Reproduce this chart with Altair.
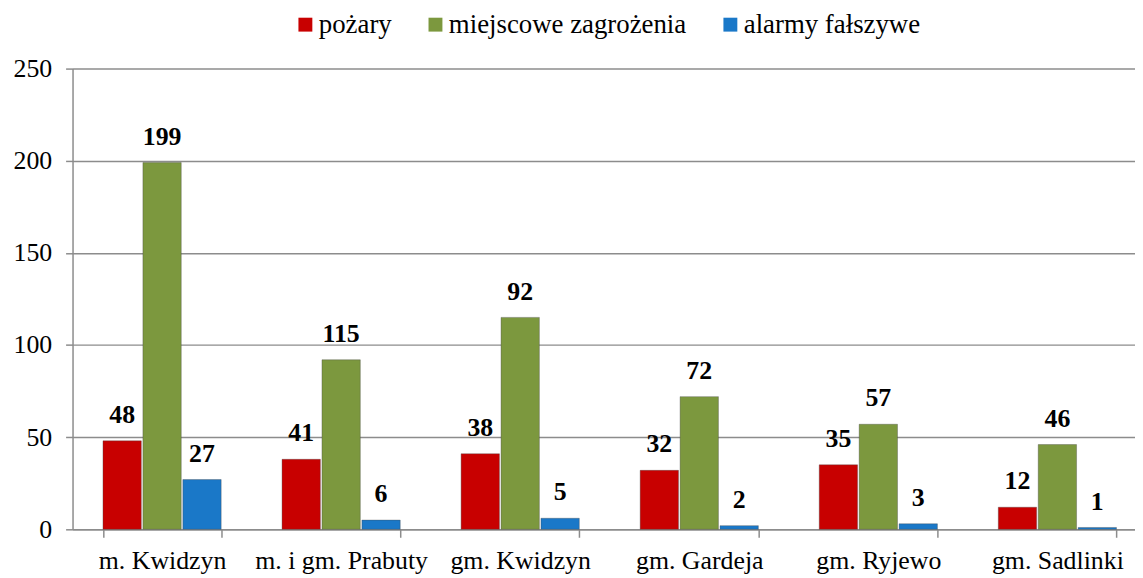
import altair as alt
import pandas as pd

categories = ["m. Kwidzyn", "m. i gm. Prabuty", "gm. Kwidzyn", "gm. Gardeja", "gm. Ryjewo", "gm. Sadlinki"]
series = ["pożary", "miejscowe zagrożenia", "alarmy fałszywe"]

# bar heights as drawn
pozary = [48, 38, 41, 32, 35, 12]
miejscowe = [199, 92, 115, 72, 57, 46]
alarmy = [27, 5, 6, 2, 3, 1]

# value labels as printed
pozary_lbl = [48, 41, 38, 32, 35, 12]
miejscowe_lbl = [199, 115, 92, 72, 57, 46]
alarmy_lbl = [27, 6, 5, 2, 3, 1]

colors = ["#C80000", "#7C983E", "#1A78C8"]

rows = []
for s, vals, lbls in zip(series, [pozary, miejscowe, alarmy], [pozary_lbl, miejscowe_lbl, alarmy_lbl]):
    for c, v, l in zip(categories, vals, lbls):
        rows.append({"cat": c, "series": s, "value": v, "label": str(l)})
df = pd.DataFrame(rows)

FONT = "'Liberation Serif', 'Times New Roman', serif"

x = alt.X(
    "cat:N",
    sort=categories,
    scale=alt.Scale(domain=categories, range=[0, 1082], paddingInner=0.34, paddingOuter=0.17),
    axis=alt.Axis(
        title=None, tickBand="extent", ticks=True, tickSize=8, tickColor="#8C8C8C",
        domainColor="#8C8C8C", domainWidth=1.5, tickWidth=1.5, labelFont=FONT, labelFontSize=26,
        labelColor="black", labelPadding=10, labelAngle=0, grid=False, labelLimit=400,
    ),
)
xo = alt.XOffset("series:N", sort=series, scale=alt.Scale(domain=series, paddingInner=0.04, paddingOuter=0))

y = alt.Y(
    "value:Q",
    scale=alt.Scale(domain=[0, 250], nice=False),
    axis=alt.Axis(
        title=None, values=[0, 50, 100, 150, 200, 250], grid=True, gridColor="#8C8C8C", gridWidth=1.5,
        domainColor="#8C8C8C", domainWidth=1.5, tickColor="#8C8C8C", tickWidth=1.5, tickSize=7,
        labelFont=FONT, labelFontSize=26, labelColor="black", labelPadding=14,
    ),
)

color = alt.Color(
    "series:N",
    sort=series,
    scale=alt.Scale(domain=series, range=colors),
    legend=alt.Legend(
        orient="none", legendX=221, legendY=-58, direction="horizontal", title=None,
        labelFont=FONT, labelFontSize=27, labelColor="black", symbolType="square",
        symbolSize=196, columnPadding=30, labelOffset=0, symbolStrokeWidth=0, labelLimit=500,
    ),
)

bars = alt.Chart(df).mark_bar(stroke="#444444", strokeWidth=0.6, strokeOpacity=0.6).encode(
    x=x, xOffset=xo, y=y, color=color
)

labels = alt.Chart(df).mark_text(
    dy=-26, baseline="middle", align="center", fontWeight="bold", fontSize=26, font=FONT, color="black"
).encode(x=x, xOffset=xo, y=y, text="label:N")

chart = (
    alt.layer(bars, labels)
    .properties(
        width=1070,
        height=464,
        autosize=alt.AutoSizeParams(type="none"),
        padding={"left": 65, "top": 59, "right": 0, "bottom": 47},
    )
    .configure_view(stroke=None)
)

chart.save("out.html", embed_options={"renderer": "svg", "actions": False})
